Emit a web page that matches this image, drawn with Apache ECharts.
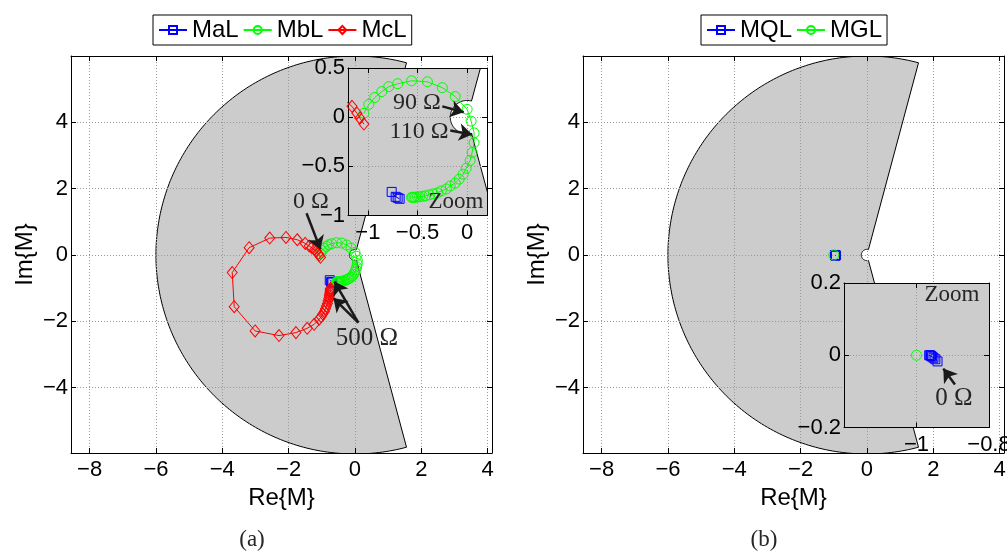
<!DOCTYPE html>
<html>
<head>
<meta charset="utf-8">
<script src="https://cdn.jsdelivr.net/npm/echarts@6/dist/echarts.min.js"></script>
<style>
html, body { margin: 0; padding: 0; background: #fff; }
#chart { width: 1007px; height: 552px; }
</style>
</head>
<body>
<div id="chart"></div>
<script>
// ---- panel (a) data: real / imaginary parts ----
var maRe = [-0.76, -0.72, -0.70, -0.68];
var maIm = [-0.76, -0.81, -0.82, -0.83];

var mbRe = [-1.04, -0.99, -0.93, -0.86, -0.79, -0.70, -0.56, -0.40, -0.25, -0.12, 0.00, 0.04, 0.07, 0.07, 0.05, 0.03,
  -0.01, -0.04, -0.08, -0.12, -0.17, -0.21, -0.26, -0.30, -0.34, -0.38, -0.42, -0.45, -0.48, -0.50, -0.52, -0.535, -0.55, -0.56];
var mbIm = [0.04, 0.13, 0.20, 0.26, 0.31, 0.34, 0.37, 0.36, 0.30, 0.21, 0.08, -0.04, -0.16, -0.26, -0.36, -0.44,
  -0.52, -0.58, -0.63, -0.67, -0.70, -0.73, -0.75, -0.77, -0.78, -0.79, -0.80, -0.805, -0.81, -0.81, -0.815, -0.815, -0.815, -0.815];

var mcRe = [-1.04, -1.08, -1.11, -1.16, -1.22, -1.30, -1.38, -1.50, -1.74, -2.08, -2.57, -3.19, -3.70, -3.64, -3.01, -2.29,
  -1.78, -1.44, -1.23, -1.08, -1.02, -0.97, -0.92, -0.89, -0.86, -0.83, -0.81, -0.79, -0.775, -0.765, -0.755, -0.75, -0.745, -0.74];
var mcIm = [-0.07, -0.01, 0.04, 0.11, 0.16, 0.22, 0.27, 0.35, 0.46, 0.53, 0.51, 0.22, -0.53, -1.56, -2.29, -2.43,
  -2.34, -2.21, -2.09, -1.94, -1.86, -1.78, -1.70, -1.62, -1.54, -1.46, -1.38, -1.31, -1.24, -1.18, -1.13, -1.09, -1.05, -1.01];

// ---- panel (b) data ----
var mqRe = [-0.965, -0.962, -0.960, -0.957, -0.953, -0.948, -0.942];
var mqIm = [0.0, 0.0, -0.002, -0.004, -0.007, -0.011, -0.017];
var mgRe = [-1.0];
var mgIm = [0.0];

// ---- shaded region (annular sector) ----
var SECTOR_OUTER = 6;
var SECTOR_INNER = 0.17;
var SECTOR_FROM = 75;
var SECTOR_TO = 285;

// ---- annotation arrows, [from, to] in data units ----
var arrowsMainA = [[[-1.46, 1.26], [-1.04, 0.17]], [[0.10, -2.04], [-0.62, -0.80]], [[0.10, -2.04], [-0.65, -1.30]]];
var arrowsZoomA = [[[-0.25, 0.11], [-0.034, 0.05]], [[-0.17, -0.135], [0.05, -0.176]]];
var arrowsZoomB = [[[-0.894, -0.081], [-0.926, -0.037]]];

var SANS = '"Liberation Sans", Arial, sans-serif';
var SERIF = '"Liberation Serif", "Times New Roman", serif';
var TICK_FS = 22;

function pairs(re, im) {
  return re.map(function (v, i) { return [v, im[i]]; });
}

function tickFormatter(step, hide) {
  return function (v) {
    var k = v / step;
    if (Math.abs(k - Math.round(k)) > 1e-6) return '';
    var r = Math.round(Math.round(k) * step * 10) / 10;
    if (hide && hide(r)) return '';
    return (r < 0 ? '\u2212' : '') + Math.abs(r);
  };
}

function renderSector(params, api) {
  var pts = [], a, t;
  for (a = SECTOR_FROM; a <= SECTOR_TO; a += 1) {
    t = a * Math.PI / 180;
    pts.push(api.coord([SECTOR_OUTER * Math.cos(t), SECTOR_OUTER * Math.sin(t)]));
  }
  for (a = SECTOR_TO; a >= SECTOR_FROM; a -= 3) {
    t = a * Math.PI / 180;
    pts.push(api.coord([SECTOR_INNER * Math.cos(t), SECTOR_INNER * Math.sin(t)]));
  }
  return { type: 'polygon', shape: { points: pts }, style: { fill: '#cccccc', stroke: '#000', lineWidth: 1 } };
}

function sectorSeries(idx, z) {
  return { type: 'custom', xAxisIndex: idx, yAxisIndex: idx, z: z, clip: true, silent: true,
    data: [[0, 0]], renderItem: renderSector };
}

function lineSeries(name, data, color, symbol, size, idx, z, arrows) {
  var s = {
    type: 'line', name: name, data: data, xAxisIndex: idx, yAxisIndex: idx, z: z,
    symbol: symbol, symbolSize: size, showAllSymbol: true, clip: true,
    lineStyle: { color: color, width: 1 },
    itemStyle: { color: 'transparent', borderColor: color, borderWidth: 1 },
    emphasis: { disabled: true }, silent: true
  };
  if (arrows) {
    s.markLine = {
      silent: true, z: 30, symbol: ['none', 'arrow'], symbolSize: 13,
      lineStyle: { color: '#1a1a1a', width: 2.5, type: 'solid' },
      label: { show: false }, emphasis: { disabled: true },
      data: arrows.map(function (p) { return [{ coord: p[0] }, { coord: p[1] }]; })
    };
  }
  return s;
}

// axis pair builders: bottom/left with labels, top/right as box edges
function xAxes(min, max, split, step, gi, z, hide, name) {
  var base = { type: 'value', gridIndex: gi, min: min, max: max, splitNumber: split, z: z,
    axisLine: { show: true, onZero: false, lineStyle: { color: '#000', width: 1 } },
    axisTick: { show: true, inside: true, length: 5, lineStyle: { color: '#000' } } };
  var bottom = Object.assign({}, base, {
    position: 'bottom',
    axisLabel: { show: true, color: '#000', fontSize: TICK_FS, fontFamily: SANS, margin: 6, formatter: tickFormatter(step, hide) },
    splitLine: { show: true, lineStyle: { color: '#999', type: [1, 2], width: 1 } }
  });
  if (name) {
    bottom.name = name; bottom.nameLocation = 'middle'; bottom.nameGap = 28;
    bottom.nameTextStyle = { color: '#000', fontSize: 24, fontFamily: SANS };
  }
  var top = Object.assign({}, base, { position: 'top', axisLabel: { show: false }, splitLine: { show: false } });
  return [bottom, top];
}

function yAxes(min, max, split, step, gi, z, hide, name) {
  var base = { type: 'value', gridIndex: gi, min: min, max: max, splitNumber: split, z: z,
    axisLine: { show: true, onZero: false, lineStyle: { color: '#000', width: 1 } },
    axisTick: { show: true, inside: true, length: 5, lineStyle: { color: '#000' } } };
  var left = Object.assign({}, base, {
    position: 'left',
    axisLabel: { show: true, color: '#000', fontSize: TICK_FS, fontFamily: SANS, margin: 3, formatter: tickFormatter(step, hide) },
    splitLine: { show: true, lineStyle: { color: '#999', type: [1, 2], width: 1 } }
  });
  if (name) {
    left.name = name; left.nameLocation = 'middle'; left.nameGap = 34;
    left.nameTextStyle = { color: '#000', fontSize: 24, fontFamily: SANS };
  }
  var right = Object.assign({}, base, { position: 'right', axisLabel: { show: false }, splitLine: { show: false } });
  return [left, right];
}

var X_MIN = -8.56, X_MAX = 4.13, Y_MIN = -5.97, Y_MAX = 6.0;
var hideBig = function (r) { return Math.abs(r) > 5; };

// axis indices: grid g -> 2g (labelled), 2g+1 (box edge)
var xs = [].concat(
  xAxes(X_MIN, X_MAX, 6, 2, 0, 2, null, 'Re{M}'),
  xAxes(X_MIN, X_MAX, 6, 2, 1, 2, null, 'Re{M}'),
  xAxes(-1.2, 0.2, 3, 0.5, 2, 12, null, null),
  xAxes(-1.2, -0.8, 2, 0.2, 3, 12, function (r) { return r < -1.1; }, null)
);
var ys = [].concat(
  yAxes(Y_MIN, Y_MAX, 6, 2, 0, 2, hideBig, 'Im{M}'),
  yAxes(Y_MIN, Y_MAX, 6, 2, 1, 2, hideBig, 'Im{M}'),
  yAxes(-1.0, 0.5, 3, 0.5, 2, 12, null, null),
  yAxes(-0.2, 0.2, 2, 0.2, 3, 12, null, null)
);

var BLUE = '#0000ff', GREEN = '#00ff00', RED = '#ff0000';
var SQ = 9, CI = 10, DI = [10, 12];

var series = [
  sectorSeries(0, 1),
  lineSeries('MaL', pairs(maRe, maIm), BLUE, 'rect', SQ, 0, 3),
  lineSeries('MbL', pairs(mbRe, mbIm), GREEN, 'circle', CI, 0, 3),
  lineSeries('McL', pairs(mcRe, mcIm), RED, 'diamond', DI, 0, 3, arrowsMainA),

  sectorSeries(1, 1),
  lineSeries('MQL', pairs(mqRe, mqIm), BLUE, 'rect', SQ, 1, 3),
  lineSeries('MGL', pairs(mgRe, mgIm), GREEN, 'circle', CI, 1, 3),

  sectorSeries(2, 11),
  lineSeries('MaL', pairs(maRe, maIm), BLUE, 'rect', SQ, 2, 13),
  lineSeries('MbL', pairs(mbRe, mbIm), GREEN, 'circle', CI, 2, 13, arrowsZoomA),
  lineSeries('McL', pairs(mcRe, mcIm), RED, 'diamond', DI, 2, 13),

  sectorSeries(3, 11),
  lineSeries('MQL', pairs(mqRe, mqIm), BLUE, 'rect', SQ, 3, 13, arrowsZoomB),
  lineSeries('MGL', pairs(mgRe, mgIm), GREEN, 'circle', CI, 3, 13)
];
series.forEach(function (s) { s.xAxisIndex = s.xAxisIndex * 2; s.yAxisIndex = s.yAxisIndex * 2; });

function label(text, x, y, font) {
  return { type: 'text', x: x, y: y, z: 40, silent: true,
    style: { text: text, font: font, fill: '#262626', align: 'center', verticalAlign: 'middle',
      textAlign: 'center', textVerticalAlign: 'middle' } };
}

var legendBase = {
  orient: 'horizontal', top: 15, borderColor: '#000', borderWidth: 1, padding: [3, 5],
  backgroundColor: '#fff', itemWidth: 28, itemHeight: 10, itemGap: 4, selectedMode: false,
  textStyle: { color: '#000', fontSize: 24, fontFamily: SANS }
};

var option = {
  animation: false,
  backgroundColor: '#fff',
  grid: [
    { left: 71, top: 56, width: 421, height: 397, outerBoundsMode: 'none', containLabel: false, z: 0 },
    { left: 583, top: 56, width: 421, height: 397, outerBoundsMode: 'none', containLabel: false, z: 0 },
    { left: 348, top: 68, width: 139, height: 147.5, outerBoundsMode: 'none', containLabel: false,
      show: true, backgroundColor: '#fff', borderWidth: 0, z: 10 },
    { left: 844, top: 283, width: 145, height: 144.5, outerBoundsMode: 'none', containLabel: false,
      show: true, backgroundColor: '#fff', borderWidth: 0, z: 10 }
  ],
  xAxis: xs,
  yAxis: ys,
  legend: [
    Object.assign({}, legendBase, { data: ['MaL', 'MbL', 'McL'], left: 153 }),
    Object.assign({}, legendBase, { data: ['MQL', 'MGL'], left: 701 })
  ],
  series: series,
  graphic: [
    label('0 \u03A9', 311, 202, '24px ' + SERIF),
    label('90 \u03A9', 417, 103, '24px ' + SERIF),
    label('110 \u03A9', 419, 132, '24px ' + SERIF),
    label('Zoom', 456, 202, '23px ' + SERIF),
    label('500 \u03A9', 367, 338, '25px ' + SERIF),
    label('Zoom', 952, 295, '23px ' + SERIF),
    label('0 \u03A9', 954, 398, '25px ' + SERIF),
    label('(a)', 252, 540, '23px ' + SERIF),
    label('(b)', 764, 540, '23px ' + SERIF)
  ]
};

var chart = echarts.init(document.getElementById('chart'), null, { renderer: 'canvas' });
chart.setOption(option);
</script>
</body>
</html>
